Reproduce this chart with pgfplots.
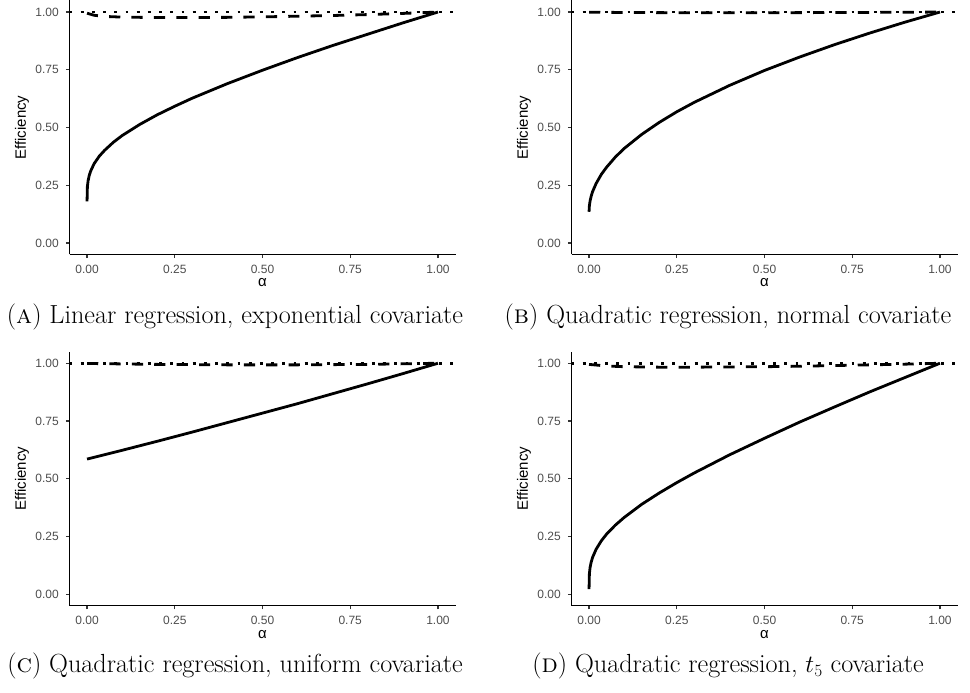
\documentclass[border=0pt]{standalone}
\usepackage{fontspec}
\usepackage{pgfplots}
\pgfplotsset{compat=1.18}
\newfontfamily\lsans{Liberation Sans}
\definecolor{tickgray}{HTML}{4D4D4D}
\definecolor{axgray}{HTML}{333333}

\pgfplotsset{
  eff/.style={
    scale only axis, width=386pt, height=254pt,
    xmin=-0.05, xmax=1.05, ymin=-0.05, ymax=1.05,
    axis x line*=bottom, axis y line*=left,
    axis line style={-, line width=1.2pt, black},
    tick align=outside, major tick length=3.75pt,
    tick style={line width=1.2pt, axgray},
    xtick={0,0.25,0.5,0.75,1}, ytick={0,0.25,0.5,0.75,1},
    xticklabels={0.00,0.25,0.50,0.75,1.00},
    yticklabels={0.00,0.25,0.50,0.75,1.00},
    tick label style={font=\lsans\fontsize{12}{14}\selectfont, text=tickgray, inner sep=0pt},
    xticklabel style={anchor=north, yshift=-6.8pt},
    yticklabel style={anchor=east, xshift=-6.8pt},
    xlabel={α}, ylabel={Efficiency},
    every axis x label/.style={at={(axis description cs:0.5,0)}, anchor=center, yshift=-28.5pt,
      font=\lsans\fontsize{15}{17}\selectfont},
    every axis y label/.style={at={(axis description cs:0,0.5)}, anchor=center, rotate=90, yshift=47.5pt,
      font=\lsans\fontsize{15}{17}\selectfont},
  },
  sol/.style={black, line width=2.8pt, solid},
  dsh/.style={black, line width=2.8pt, dash pattern=on 11.2pt off 11.2pt},
  dot/.style={black, line width=2.8pt, dash pattern=on 2.8pt off 8.4pt},
}

\begin{document}
\begin{tikzpicture}
\useasboundingbox (0,0) rectangle (970pt,693pt);

% (a) linear regression, exponential covariate
\begin{axis}[eff, at={(69.5pt,438.5pt)}, anchor=south west]
\addplot[sol] coordinates {(0,0.18) (0.001,0.244) (0.003,0.269) (0.006,0.291) (0.01,0.310) (0.02,0.343) (0.035,0.376) (0.05,0.401) (0.075,0.436) (0.1,0.465) (0.15,0.513) (0.2,0.555) (0.25,0.592) (0.3,0.627) (0.4,0.690) (0.5,0.748) (0.6,0.803) (0.7,0.855) (0.8,0.904) (0.9,0.953) (1,1)};
\addplot[dsh] coordinates {(0,0.995) (0.02,0.986) (0.05,0.981) (0.1,0.978) (0.2,0.976) (0.3,0.976) (0.4,0.977) (0.5,0.979) (0.6,0.982) (0.7,0.985) (0.8,0.989) (0.9,0.994) (1,1)};
\addplot[dot] coordinates {(-0.05,1) (1.05,1)};
\end{axis}

% (b) quadratic regression, normal covariate
\begin{axis}[eff, at={(571.5pt,438.5pt)}, anchor=south west]
\addplot[sol] coordinates {(0,0.135) (0.001,0.162) (0.003,0.182) (0.006,0.202) (0.01,0.222) (0.02,0.257) (0.035,0.297) (0.05,0.328) (0.075,0.372) (0.1,0.409) (0.15,0.470) (0.2,0.522) (0.25,0.568) (0.3,0.609) (0.4,0.682) (0.5,0.747) (0.6,0.805) (0.7,0.859) (0.8,0.909) (0.9,0.956) (1,1)};
\addplot[dsh] coordinates {(0,0.999) (0.25,0.997) (0.5,0.997) (0.75,0.998) (1,1)};
\addplot[dot] coordinates {(-0.05,1) (1.05,1)};
\end{axis}

% (c) quadratic regression, uniform covariate
\begin{axis}[eff, at={(69.5pt,87.3pt)}, anchor=south west]
\addplot[sol] coordinates {(0,0.585) (0.1,0.623) (0.2,0.662) (0.3,0.702) (0.4,0.743) (0.5,0.784) (0.6,0.825) (0.7,0.868) (0.8,0.911) (0.9,0.955) (1,1)};
\addplot[dsh] coordinates {(0,0.999) (0.2,0.995) (0.4,0.993) (0.6,0.993) (0.8,0.995) (1,1)};
\addplot[dot] coordinates {(-0.05,1) (1.05,1)};
\end{axis}

% (d) quadratic regression, t5 covariate
\begin{axis}[eff, at={(571.5pt,87.3pt)}, anchor=south west]
\addplot[sol] coordinates {(0,0.022) (0.001,0.089) (0.003,0.116) (0.006,0.138) (0.01,0.159) (0.02,0.194) (0.035,0.231) (0.05,0.260) (0.075,0.299) (0.1,0.332) (0.15,0.389) (0.2,0.438) (0.25,0.483) (0.3,0.525) (0.4,0.603) (0.5,0.675) (0.6,0.745) (0.7,0.811) (0.8,0.876) (0.9,0.938) (1,1)};
\addplot[dsh] coordinates {(0,0.995) (0.05,0.988) (0.1,0.985) (0.2,0.983) (0.3,0.983) (0.4,0.984) (0.5,0.985) (0.6,0.987) (0.7,0.99) (0.8,0.993) (0.9,0.996) (1,1)};
\addplot[dot] coordinates {(-0.05,1) (1.05,1)};
\end{axis}

\begin{scope}[every node/.style={anchor=base, inner sep=0pt, font=\fontsize{26.2}{30}\selectfont}]
\node at (235pt,369pt) {(\textsc{a}) Linear regression, exponential covariate};
\node at (728pt,369pt) {(\textsc{b}) Quadratic regression, normal covariate};
\node at (235pt,20pt) {(\textsc{c}) Quadratic regression, uniform covariate};
\node at (728pt,20pt) {(\textsc{d}) Quadratic regression, $t_5$ covariate};
\end{scope}
\end{tikzpicture}
\end{document}
